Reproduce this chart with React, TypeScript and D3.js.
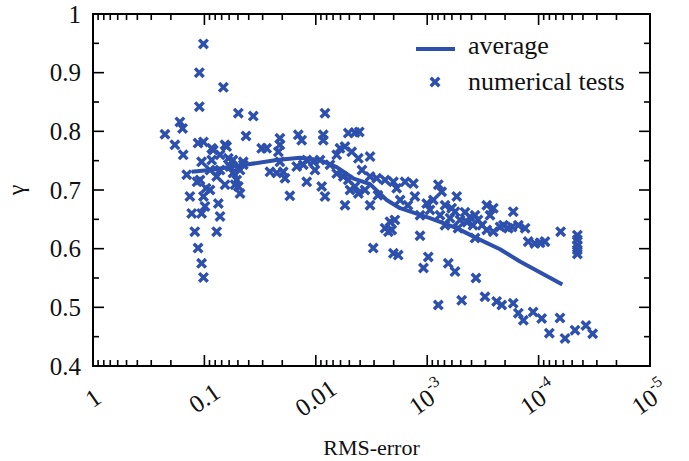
import React from "react";
import * as d3 from "d3";

// RMS-error / gamma of the numerical tests
const testErrors = [
  0.102, 0.111, 0.0676, 0.111, 0.166, 0.157, 0.0496, 0.0364, 0.226, 0.0423,
  0.184, 0.155, 0.114, 0.102, 0.0653, 0.0306, 0.0832, 0.0724, 0.106, 0.061,
  0.0448, 0.144, 0.0891, 0.0776, 0.0589, 0.0554, 0.0513, 0.0496, 0.0479, 0.0891,
  0.135, 0.102, 0.075, 0.0988, 0.13, 0.106, 0.0724, 0.122, 0.0776, 0.114,
  0.106, 0.102, 0.086, 0.0631, 0.0554, 0.0448, 0.0531, 0.1095, 0.0967, 0.1165,
  0.0653, 0.086, 0.0479, 0.0724,
  0.00827, 0.021, 0.021, 0.0217, 0.01436, 0.01339, 0.00857, 0.00857, 0.00511, 0.00445,
  0.00407, 0.00607, 0.00547, 0.00476, 0.00415, 0.00326, 0.00649, 0.021, 0.01207, 0.01052,
  0.00917, 0.01484, 0.01295, 0.0196, 0.0189, 0.01207, 0.0171, 0.00885, 0.00827, 0.00649,
  0.00566, 0.00511, 0.00493, 0.00445, 0.00415, 0.00547, 0.00326, 0.00284, 0.00239, 0.00201,
  0.00326, 0.00239, 0.00223, 0.00305, 0.00201, 0.0276, 0.0258, 0.0224, 0.00746, 0.01017,
  0.00385, 0.00277, 0.00362,
  0.00158, 0.00133, 0.00188, 0.000795, 0.000741, 0.00129, 0.000543, 0.00101, 0.000881, 0.000692,
  0.000603, 0.000563, 0.000292, 0.000255, 0.000273, 0.000169, 0.000458, 0.000413, 0.000372, 0.00035,
  0.000439, 0.000388, 0.000322, 0.00216, 0.00195, 0.00208, 0.000207, 0.000187, 0.000152, 0.000292,
  0.000255, 0.000372, 0.00116, 0.00182, 0.000978, 0.00108, 0.000647, 0.000563, 0.000365, 0.000303,
  0.000238, 0.000214, 0.000169, 0.00049, 0.000795, 0.000152, 0.000944, 0.000767, 0.000624, 0.000508,
  0.000529, 0.000692, 0.00175, 0.00149, 0.00116,
  0.000222, 0.000173, 0.000132, 0.000124, 0.000108, 0.0000971, 0.0000877, 0.0000634, 0.0000449, 0.0000449,
  0.0000449, 0.0000449, 0.0000449, 0.000137, 0.000112, 0.0000938, 0.0000801, 0.0000643, 0.0000579, 0.0000471,
  0.0000376, 0.0000327,
];

const testGammas = [
  0.949, 0.9, 0.875, 0.842, 0.816, 0.805, 0.831, 0.826, 0.795, 0.792,
  0.777, 0.76, 0.78, 0.782, 0.777, 0.771, 0.768, 0.76, 0.748, 0.754,
  0.748, 0.726, 0.734, 0.723, 0.74, 0.729, 0.717, 0.706, 0.694, 0.7,
  0.689, 0.689, 0.677, 0.672, 0.66, 0.66, 0.655, 0.629, 0.629, 0.601,
  0.575, 0.551, 0.771, 0.774, 0.751, 0.743, 0.709, 0.717, 0.703, 0.714,
  0.709, 0.751, 0.734, 0.734,
  0.831, 0.788, 0.777, 0.765, 0.794, 0.785, 0.794, 0.785, 0.797, 0.798,
  0.799, 0.771, 0.774, 0.765, 0.754, 0.757, 0.76, 0.748, 0.751, 0.748,
  0.751, 0.74, 0.743, 0.731, 0.72, 0.714, 0.69, 0.706, 0.689, 0.728,
  0.723, 0.717, 0.7, 0.706, 0.694, 0.674, 0.723, 0.72, 0.717, 0.714,
  0.674, 0.635, 0.629, 0.601, 0.592, 0.771, 0.731, 0.729, 0.743, 0.734,
  0.734, 0.691, 0.7,
  0.714, 0.711, 0.703, 0.709, 0.697, 0.689, 0.689, 0.677, 0.683, 0.674,
  0.669, 0.663, 0.674, 0.669, 0.657, 0.663, 0.662, 0.654, 0.657, 0.649,
  0.645, 0.64, 0.64, 0.646, 0.649, 0.632, 0.64, 0.635, 0.64, 0.632,
  0.629, 0.618, 0.622, 0.589, 0.586, 0.567, 0.575, 0.561, 0.55, 0.518,
  0.51, 0.504, 0.507, 0.512, 0.504, 0.49, 0.666, 0.657, 0.652, 0.649,
  0.635, 0.64, 0.683, 0.674, 0.657,
  0.637, 0.637, 0.635, 0.612, 0.609, 0.61, 0.612, 0.629, 0.623, 0.615,
  0.606, 0.598, 0.591, 0.478, 0.492, 0.481, 0.456, 0.482, 0.447, 0.461,
  0.469, 0.455,
];

// average curve
const avgErrors = [
  0.13, 0.0891, 0.0554, 0.0224, 0.01387, 0.00917, 0.00649, 0.00463, 0.00326,
  0.00231, 0.00175, 0.000944, 0.000543, 0.00036, 0.000222, 0.000147, 0.0000612,
];
const avgGammas = [
  0.731, 0.734, 0.74, 0.751, 0.755, 0.751, 0.739, 0.72, 0.71,
  0.683, 0.669, 0.652, 0.635, 0.618, 0.599, 0.578, 0.539,
];

const xMajorTicks = [1, 0.1, 0.01, 1e-3, 1e-4, 1e-5];
const xTickLabels: [string, string][] = [
  ["1", ""], ["0.1", ""], ["0.01", ""], ["10", "-3"], ["10", "-4"], ["10", "-5"],
];
const yMajorTicks = [0.4, 0.5, 0.6, 0.7, 0.8, 0.9, 1];
const yMinorTicks = [0.45, 0.55, 0.65, 0.75, 0.85, 0.95];
const legendLabels = ["average", "numerical tests"];

const W = 689, H = 461;
const L = 93, R = 650, T = 14, B = 366;
const BLUE = "#2d50ad";
const FONT = "'Liberation Serif', 'Times New Roman', serif";

export default function App() {
  const x = d3.scaleLog().domain([1, 1e-5]).range([L, R]);
  const y = d3.scaleLinear().domain([0.4, 1]).range([B, T]);

  const xMinor: number[] = [];
  for (let k = 0; k > -5; k--) {
    for (let m = 2; m <= 9; m++) xMinor.push(m * Math.pow(10, k - 1));
  }

  const line = d3
    .line<number>()
    .x((_, i) => x(avgErrors[i]))
    .y((_, i) => y(avgGammas[i]))
    .curve(d3.curveLinear);

  const s = 4.3;
  const cross = `M${-s},${-s}L${s},${s}M${-s},${s}L${s},${-s}`;

  const majLen = 11, minLen = 6;

  return (
    <svg width={W} height={H} style={{ position: "absolute", left: 0, top: 0, background: "#fff" }}
      fontFamily={FONT}>
      {/* markers */}
      <g stroke={BLUE} strokeWidth={3.4} fill="none">
        {testErrors.map((e, i) => (
          <path key={i} d={cross} transform={`translate(${x(e)},${y(testGammas[i])})`} />
        ))}
      </g>
      <path d={line(avgErrors) || ""} fill="none" stroke={BLUE} strokeWidth={4} strokeLinejoin="round" />

      {/* ticks */}
      <g stroke="#000" strokeWidth={1.6}>
        {xMajorTicks.map((t, i) => (
          <g key={"xM" + i}>
            <line x1={x(t)} x2={x(t)} y1={B} y2={B - majLen} />
            <line x1={x(t)} x2={x(t)} y1={T} y2={T + majLen} />
          </g>
        ))}
        {xMinor.map((t, i) => (
          <g key={"xm" + i}>
            <line x1={x(t)} x2={x(t)} y1={B} y2={B - minLen} />
            <line x1={x(t)} x2={x(t)} y1={T} y2={T + minLen} />
          </g>
        ))}
        {yMajorTicks.map((t, i) => (
          <g key={"yM" + i}>
            <line x1={L} x2={L + majLen} y1={y(t)} y2={y(t)} />
            <line x1={R} x2={R - majLen} y1={y(t)} y2={y(t)} />
          </g>
        ))}
        {yMinorTicks.map((t, i) => (
          <g key={"ym" + i}>
            <line x1={L} x2={L + minLen} y1={y(t)} y2={y(t)} />
            <line x1={R} x2={R - minLen} y1={y(t)} y2={y(t)} />
          </g>
        ))}
      </g>
      <rect x={L} y={T} width={R - L} height={B - T} fill="none" stroke="#000" strokeWidth={2} />

      {/* y tick labels */}
      {yMajorTicks.map((t, i) => (
        <text key={"yl" + i} x={L - 12} y={y(t)} textAnchor="end" dominantBaseline="central"
          fontSize={25} fill="#111">
          {t === 1 ? "1" : t.toFixed(1)}
        </text>
      ))}

      {/* x tick labels */}
      {xMajorTicks.map((t, i) => (
        <text key={"xl" + i} transform={`translate(${x(t)},${398}) rotate(-35)`} textAnchor="middle"
          dominantBaseline="central" fontSize={25} fill="#111">
          {xTickLabels[i][0]}
          {xTickLabels[i][1] && (
            <tspan fontSize={16} dy={-10}>{xTickLabels[i][1]}</tspan>
          )}
        </text>
      ))}

      {/* axis titles */}
      <text x={(L + R) / 2} y={455} textAnchor="middle" fontSize={22} fill="#111">RMS-error</text>
      <text transform={`translate(24,${(T + B) / 2}) rotate(-90)`} textAnchor="middle" fontSize={24} fill="#111">γ</text>

      {/* legend */}
      <line x1={416} x2={455} y1={49} y2={49} stroke={BLUE} strokeWidth={4} />
      <text x={468} y={54} fontSize={26} fill="#111">{legendLabels[0]}</text>
      <path d={cross} transform="translate(435,82)" stroke={BLUE} strokeWidth={3.4} fill="none" />
      <text x={468} y={90} fontSize={26} fill="#111">{legendLabels[1]}</text>
    </svg>
  );
}
